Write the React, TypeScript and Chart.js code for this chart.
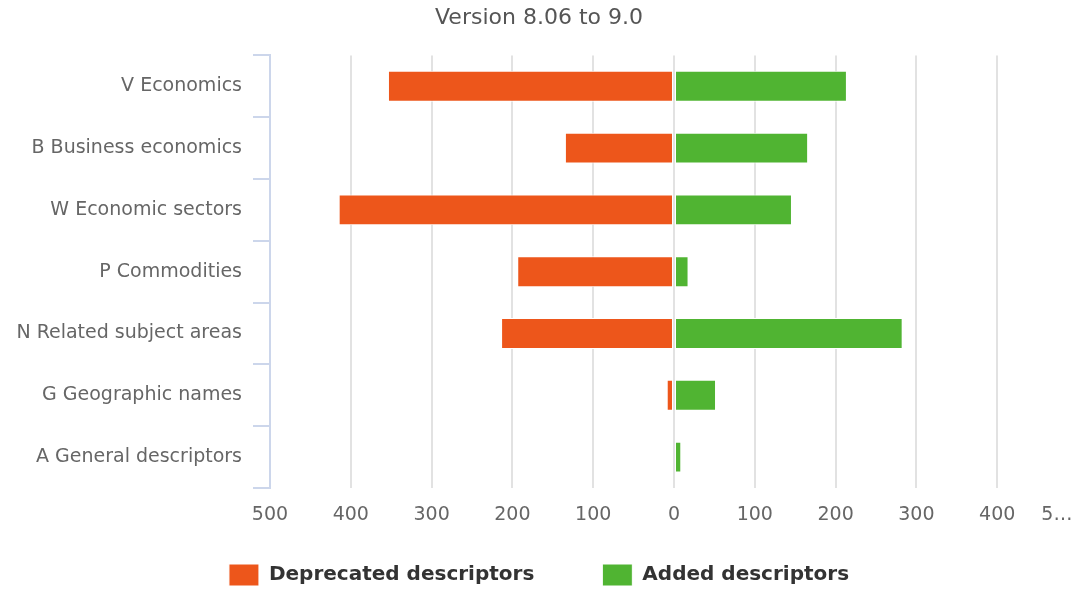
import React, { useEffect, useRef } from "react";
import { Chart, registerables } from "chart.js";

Chart.register(...registerables);

const titleText = "Version 8.06 to 9.0";
const categories = [
  "V Economics",
  "B Business economics",
  "W Economic sectors",
  "P Commodities",
  "N Related subject areas",
  "G Geographic names",
  "A General descriptors",
];
const seriesNames = ["Deprecated descriptors", "Added descriptors"];
const deprecated = [-354, -135, -415, -194, -214, -9, 0];
const added = [214, 166, 146, 18, 283, 52, 9];
const xTickValues = [-500, -400, -300, -200, -100, 0, 100, 200, 300, 400, 500];
const xTickLabels = ["500", "400", "300", "200", "100", "0", "100", "200", "300", "400", "5…"];

const FONT = "'DejaVu Sans', 'Liberation Sans', sans-serif";

export default function App() {
  const ref = useRef<HTMLCanvasElement>(null);

  useEffect(() => {
    if (!ref.current) return;
    const chart = new Chart(ref.current, {
      type: "bar",
      data: {
        labels: categories,
        datasets: [
          {
            label: seriesNames[0],
            data: deprecated,
            backgroundColor: "#ED561B",
            borderColor: "#ffffff",
            borderWidth: 1,
            borderSkipped: false,
            barPercentage: 0.5,
            categoryPercentage: 1,
          },
          {
            label: seriesNames[1],
            data: added,
            backgroundColor: "#50B432",
            borderColor: "#ffffff",
            borderWidth: 1,
            borderSkipped: false,
            barPercentage: 0.5,
            categoryPercentage: 1,
          },
        ],
      },
      options: {
        indexAxis: "y",
        animation: false,
        responsive: true,
        maintainAspectRatio: false,
        events: [],
        layout: { padding: { top: 0, left: 0, right: 0, bottom: -2 } },
        plugins: {
          title: {
            display: true,
            text: titleText,
            color: "#555555",
            font: { family: FONT, size: 22, weight: "normal" },
            padding: { top: 5, bottom: 24 },
          },
          legend: {
            display: true,
            position: "bottom",
            labels: {
              boxWidth: 30,
              boxHeight: 22,
              padding: 68,
              color: "#333333",
              font: { family: FONT, size: 20, weight: "bold" },
            },
          },
          tooltip: { enabled: false },
        },
        scales: {
          x: {
            type: "linear",
            stacked: true,
            min: -500,
            max: 500,
            afterBuildTicks: (s: any) => {
              s.ticks = xTickValues.map((v) => ({ value: v }));
            },
            afterFit: (s: any) => {
              s.height = 8;
              s.paddingLeft = 0;
              s.paddingRight = 0;
            },
            ticks: {
              autoSkip: false,
              maxRotation: 0,
              minRotation: 0,
              mirror: true,
              padding: -38,
              color: "#666666",
              font: { family: FONT, size: 19 },
              callback: (_v: any, i: number) =>
                i === xTickLabels.length - 1
                  ? xTickLabels[i] + "\u00a0".repeat(7)
                  : xTickLabels[i],
            },
            grid: {
              drawTicks: false,
              lineWidth: 2,
              color: (c: any) =>
                c.tick && (c.tick.value === -500 || c.tick.value === 500)
                  ? "rgba(0,0,0,0)"
                  : "#e2e2e2",
            },
            border: { display: false },
          },
          y: {
            stacked: true,
            afterFit: (s: any) => {
              s.width = 270;
              s.paddingTop = 0;
              s.paddingBottom = 0;
            },
            ticks: {
              padding: 11,
              color: "#666666",
              font: { family: FONT, size: 19 },
            },
            grid: {
              drawOnChartArea: false,
              drawTicks: true,
              tickLength: 17,
              color: "#ccd6eb",
              lineWidth: 2,
              offset: true,
            },
            border: { display: true, color: "#ccd6eb", width: 2 },
          },
        },
      },
    } as any);
    return () => chart.destroy();
  }, []);

  return (
    <div style={{ position: "fixed", left: 0, top: 0, width: 1078, height: 594 }}>
      <canvas ref={ref} />
    </div>
  );
}
